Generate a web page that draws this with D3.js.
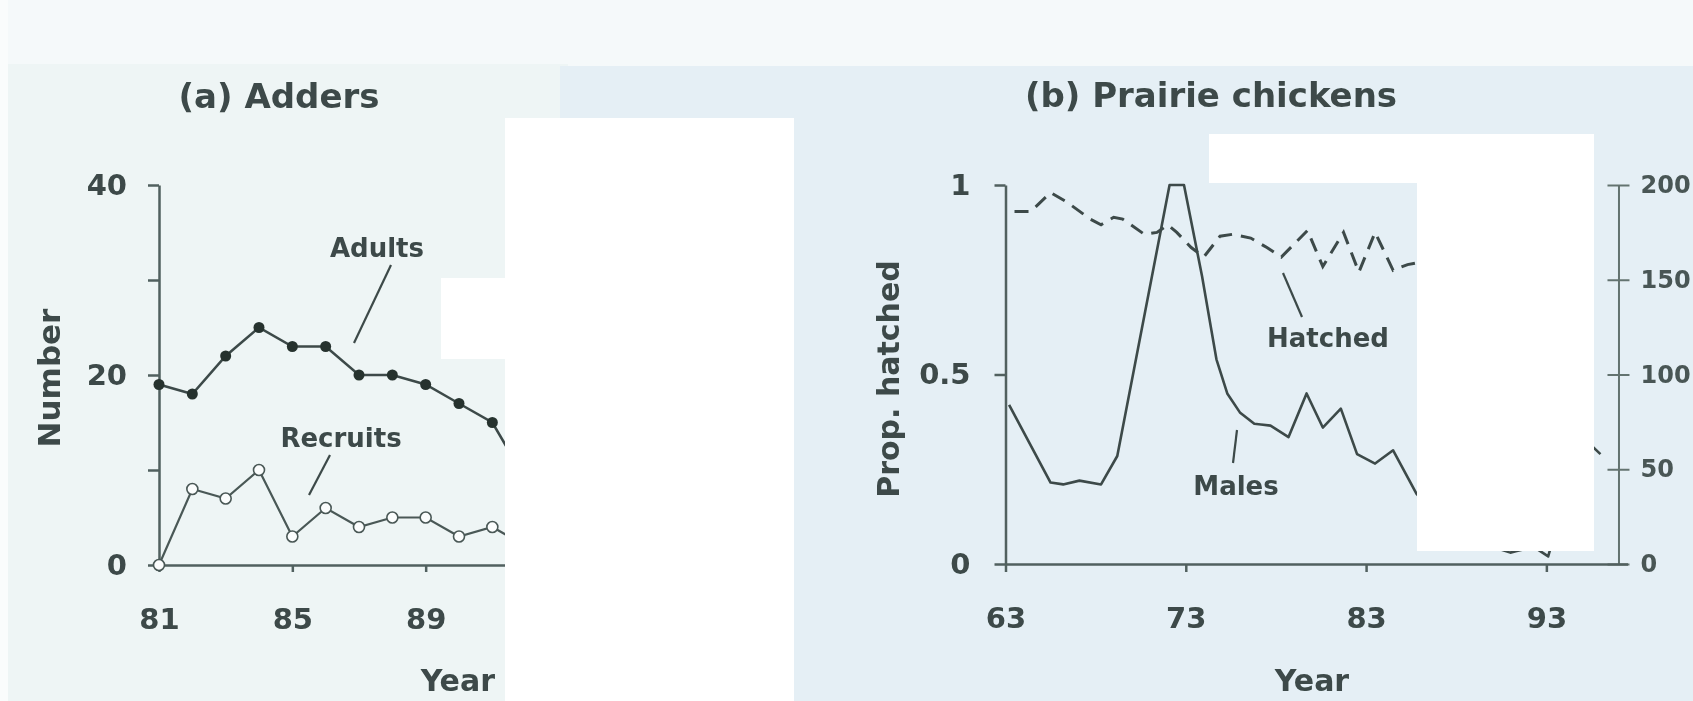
<!DOCTYPE html>
<html>
<head>
<meta charset="utf-8">
<script src="https://cdn.jsdelivr.net/npm/d3@7"></script>
<style>
  html, body { margin: 0; padding: 0; background: #fafcfc; }
  svg { display: block; }
</style>
</head>
<body>
<script>
// (a) Adders
var adderYears = [81, 82, 83, 84, 85, 86, 87, 88, 89, 90, 91, 92]
var adults = [19, 18, 22, 25, 23, 23, 20, 20, 19, 17, 15, 9]
var recruits = [0, 8, 7, 10, 3, 6, 4, 5, 5, 3, 4, 2]

// (b) Prairie chickens
var maleYears = [63.2, 65.5, 66.2, 67.1, 68.3, 69.2, 72.1, 72.9, 73.9, 74.7, 75.3, 76.0, 76.8, 77.7, 78.7, 79.7, 80.6, 81.6, 82.5, 83.5, 84.5, 85.8, 88, 91, 92.3, 93.1, 95, 96]
var males = [84, 43, 42, 44, 42, 57, 200, 200, 152, 108, 90, 80, 74, 73, 67, 90, 72, 82, 58, 53, 60, 37, 15, 6, 9, 4, 67, 58]
var hatchYears = [63.5, 64.4, 65.5, 66.4, 67.7, 68.3, 69, 69.5, 70.7, 71.4, 72, 72.5, 73.3, 74, 74.9, 75.6, 76.6, 77.5, 78.3, 79.75, 80.6, 81.75, 82.6, 83.5, 84.5, 85.3, 85.85, 96]
var hatched = [0.93, 0.93, 0.98, 0.955, 0.91, 0.895, 0.915, 0.91, 0.87, 0.875, 0.895, 0.875, 0.835, 0.81, 0.865, 0.87, 0.86, 0.835, 0.81, 0.88, 0.785, 0.875, 0.77, 0.875, 0.775, 0.79, 0.795, 0.915]

var adderTicksX = [81, 85, 89, 93]
var adderTicksY = [0, 10, 20, 30, 40]
var chickTicksX = [63, 73, 83, 93]
var propTicks = [0, 0.5, 1]
var maleTicks = [0, 50, 100, 150, 200]

var ink = '#3c4a48'
var axisInk = '#51605e'
var font = 'DejaVu Sans, Verdana, sans-serif'

var svg = d3.select('body').append('svg').attr('width', 1693).attr('height', 701)

// scanned paper background
svg.append('rect').attr('x', 8).attr('y', 0).attr('width', 1685).attr('height', 701).attr('fill', '#f5f9fa')
svg.append('rect').attr('x', 8).attr('y', 64).attr('width', 560).attr('height', 637).attr('fill', '#eef5f5')
svg.append('rect').attr('x', 560).attr('y', 66).attr('width', 1133).attr('height', 635).attr('fill', '#e5eff5')

var defs = svg.append('defs')
defs.append('filter').attr('id', 'soft').append('feGaussianBlur').attr('stdDeviation', 0.6)

var g = svg.append('g').attr('filter', 'url(#soft)')

function styleAxis(sel, size) {
    sel.attr('font-family', font).attr('font-size', size).attr('font-weight', 'bold')
    sel.select('.domain').attr('stroke', axisInk).attr('stroke-width', 2.5)
    sel.selectAll('.tick line').attr('stroke', axisInk).attr('stroke-width', 2.5)
    sel.selectAll('.tick text').attr('fill', ink)
}

function label(x, y, txt, size, anchor) {
    return g.append('text').attr('x', x).attr('y', y).text(txt)
        .attr('font-family', font).attr('font-size', size).attr('font-weight', 'bold')
        .attr('fill', ink).attr('text-anchor', anchor || 'middle')
}

// ---------- panel (a) ----------
var xA = d3.scaleLinear().domain([81, 93]).range([159, 559])
var yA = d3.scaleLinear().domain([0, 40]).range([565, 185])

var yAxisA = d3.axisLeft(yA).tickValues(adderTicksY).tickSize(11).tickSizeOuter(0).tickPadding(21)
    .tickFormat(d => d % 20 === 0 ? d : '')
g.append('g').attr('transform', 'translate(159,0)').call(yAxisA).call(styleAxis, 29)

var xAxisA = d3.axisBottom(xA).tickValues(adderTicksX).tickSize(7).tickSizeOuter(0).tickPadding(36)
g.append('g').attr('transform', 'translate(0,565)').call(xAxisA).call(styleAxis, 29)

var lineA = d3.line().x((d, i) => xA(adderYears[i])).y(d => yA(d))
g.append('path').datum(adults).attr('d', lineA).attr('fill', 'none').attr('stroke', ink).attr('stroke-width', 2.5)
g.append('path').datum(recruits).attr('d', lineA).attr('fill', 'none').attr('stroke', '#4a5856').attr('stroke-width', 2.2)

g.selectAll('circle.adult').data(adults).enter().append('circle').attr('class', 'adult')
    .attr('cx', (d, i) => xA(adderYears[i])).attr('cy', d => yA(d)).attr('r', 5.5).attr('fill', '#26332f')
g.selectAll('circle.recruit').data(recruits).enter().append('circle').attr('class', 'recruit')
    .attr('cx', (d, i) => xA(adderYears[i])).attr('cy', d => yA(d)).attr('r', 5.5)
    .attr('fill', '#fbfdfd').attr('stroke', '#4a5856').attr('stroke-width', 1.6)

label(377, 257, 'Adults', 26)
g.append('line').attr('x1', 391).attr('y1', 265).attr('x2', 354).attr('y2', 343).attr('stroke', ink).attr('stroke-width', 2.2)
label(341, 447, 'Recruits', 26)
g.append('line').attr('x1', 330).attr('y1', 455).attr('x2', 309).attr('y2', 495).attr('stroke', ink).attr('stroke-width', 2.2)

label(279, 108, '(a) Adders', 34)
label(495, 691, 'Year', 30, 'end')
label(0, 0, 'Number', 31).attr('transform', 'translate(60,378) rotate(-90)')

// ---------- panel (b) ----------
var xB = d3.scaleLinear().domain([63, 97.5]).range([1005.5, 1627.5])
var yL = d3.scaleLinear().domain([0, 1]).range([564, 185])
var yR = d3.scaleLinear().domain([0, 200]).range([564, 185])

var yAxisL = d3.axisLeft(yL).tickValues(propTicks).tickSize(11).tickSizeOuter(0).tickPadding(24)
    .tickFormat(d => d === 0.5 ? '0.5' : d3.format('d')(d))
g.append('g').attr('transform', 'translate(1005.5,0)').call(yAxisL).call(styleAxis, 29)

var yAxisR = d3.axisRight(yR).tickValues(maleTicks).tickSize(11).tickSizeOuter(0).tickPadding(11)
var gR = g.append('g').attr('transform', 'translate(' + xB(97) + ',0)').call(yAxisR).call(styleAxis, 24)
gR.select('.domain').attr('stroke-width', 2).attr('stroke', '#64736f')
gR.selectAll('.tick line').attr('x1', -11).attr('stroke-width', 2).attr('stroke', '#64736f')
gR.selectAll('.tick text').attr('fill', '#4a5755')

var xAxisB = d3.axisBottom(xB).tickValues(chickTicksX).tickSize(8).tickSizeOuter(0).tickPadding(35)
g.append('g').attr('transform', 'translate(0,564)').call(xAxisB).call(styleAxis, 29)

var maleLine = d3.line().x((d, i) => xB(maleYears[i])).y(d => yR(d))
g.append('path').datum(males).attr('d', maleLine).attr('fill', 'none')
    .attr('stroke', ink).attr('stroke-width', 2.6).attr('stroke-linejoin', 'round')

var hatchLine = d3.line().x((d, i) => xB(hatchYears[i])).y(d => yL(d))
g.append('path').datum(hatched).attr('d', hatchLine).attr('fill', 'none')
    .attr('stroke', ink).attr('stroke-width', 3).attr('stroke-dasharray', '14,9')

label(1328, 347, 'Hatched', 26)
g.append('line').attr('x1', 1283).attr('y1', 273).attr('x2', 1302).attr('y2', 317).attr('stroke', ink).attr('stroke-width', 2.2)
label(1236, 495, 'Males', 26)
g.append('line').attr('x1', 1237).attr('y1', 430).attr('x2', 1233).attr('y2', 463).attr('stroke', ink).attr('stroke-width', 2.2)

label(1211, 107, '(b) Prairie chickens', 34)
label(1312, 691, 'Year', 30)
label(0, 0, 'Prop. hatched', 30).attr('transform', 'translate(899,379) rotate(-90)')

// white patches over the scan
var patches = [[441, 278, 64, 81], [505, 118, 289, 583], [1209, 134, 385, 49], [1417, 183, 177, 368]]
svg.selectAll('rect.patch').data(patches).enter().append('rect').attr('class', 'patch')
    .attr('x', d => d[0]).attr('y', d => d[1]).attr('width', d => d[2]).attr('height', d => d[3])
    .attr('fill', '#ffffff')
</script>
</body>
</html>
